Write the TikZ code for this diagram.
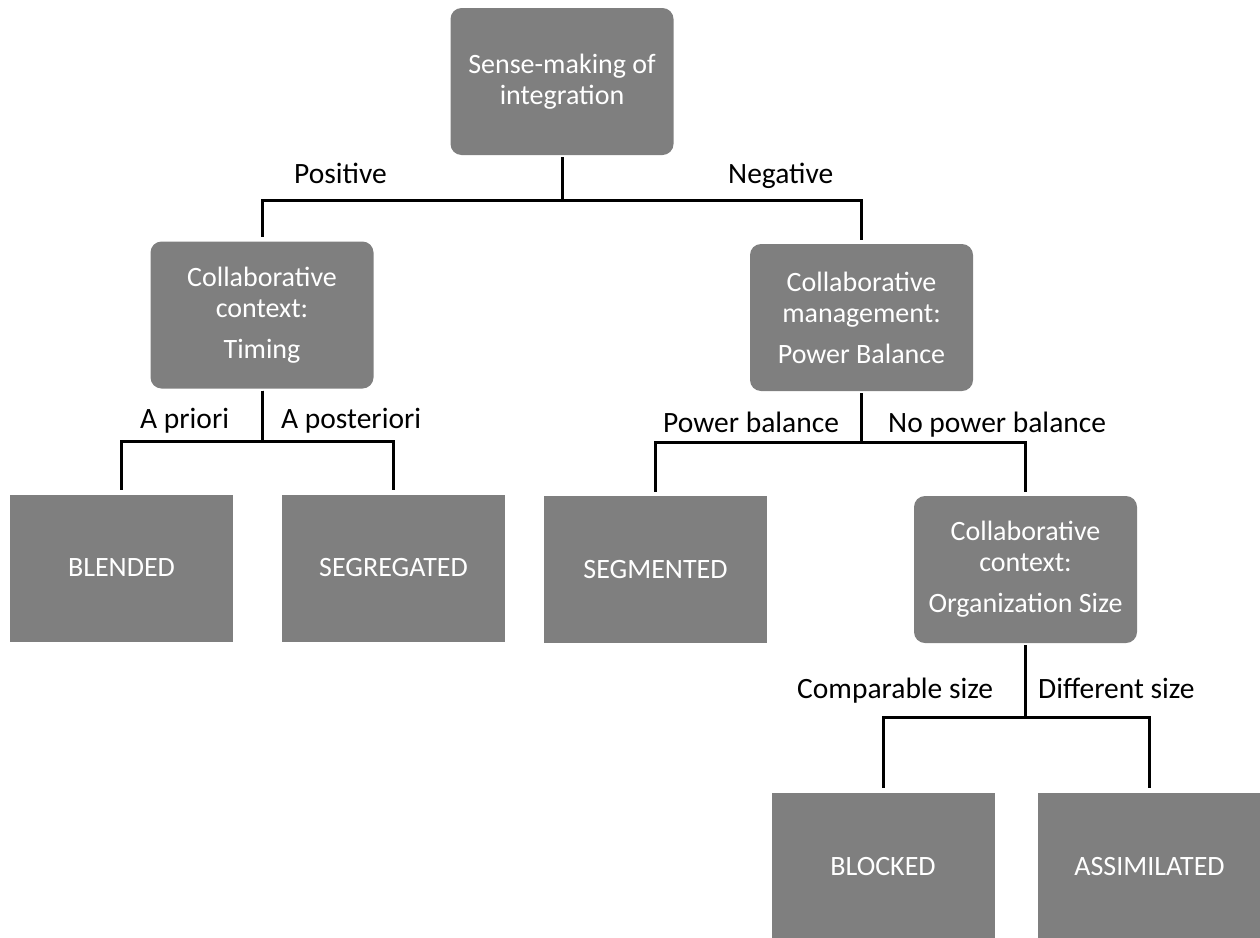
\documentclass[tikz,border=0pt]{standalone}
\usepackage{fontspec}
\setmainfont{Carlito}
\begin{document}
\begin{tikzpicture}[x=1pt,y=-1pt,
  box/.style={fill=boxgray,text=white,minimum width=223pt,minimum height=147pt,
    inner sep=0pt,align=center,font=\fontsize{28}{31}\selectfont},
  rbox/.style={box,rounded corners=11pt},
  conn/.style={line width=3pt,shorten >=4pt,shorten <=2pt},
  lbl/.style={font=\fontsize{29.5}{34}\selectfont,inner sep=0pt,anchor=base west}]
\definecolor{boxgray}{HTML}{7F7F7F}
\useasboundingbox (0,0) rectangle (1260,937);

% decision boxes
\node[rbox] (top) at (562,81.5) {Sense-making of\\integration};
\node[rbox] (timing) at (262,315) {Collaborative\\context:\\[10pt]Timing};
\node[rbox] (power) at (861.5,317.5) {Collaborative\\management:\\[10pt]Power Balance};
\node[rbox] (org) at (1025.5,569.5) {Collaborative\\context:\\[10pt]Organization Size};

% outcome boxes
\node[box] (blended) at (121.5,568) {BLENDED};
\node[box] (segregated) at (393.5,568) {SEGREGATED};
\node[box] (segmented) at (655.5,569.5) {SEGMENTED};
\node[box] (blocked) at (883,866) {BLOCKED};
\node[box] (assimilated) at (1149.5,866) {ASSIMILATED};

% branches
\draw[conn] (top.south) -- ++(0,45) -| (timing.north);
\draw[conn] (top.south) -- ++(0,45) -| (power.north);
\draw[conn] (timing.south) -- ++(0,52.5) -| (blended.north);
\draw[conn] (timing.south) -- ++(0,52.5) -| (segregated.north);
\draw[conn] (power.south) -- ++(0,51) -| (segmented.north);
\draw[conn] (power.south) -- ++(0,51) -| (org.north);
\draw[conn] (org.south) -- ++(0,74) -| (blocked.north);
\draw[conn] (org.south) -- ++(0,74) -| (assimilated.north);

% branch labels
\node[lbl] (lpos) at (294,183) {Positive};
\node[lbl] (lneg) at (728,183) {Negative};
\node[lbl] (lapr) at (140,428) {A priori};
\node[lbl] (lapo) at (281,428) {A posteriori};
\node[lbl] (lpb) at (663,432) {Power balance};
\node[lbl] (lnpb) at (888,432) {No power balance};
\node[lbl] (lcs) at (797,698) {Comparable size};
\node[lbl] (lds) at (1038,698) {Different size};
\end{tikzpicture}
\end{document}
